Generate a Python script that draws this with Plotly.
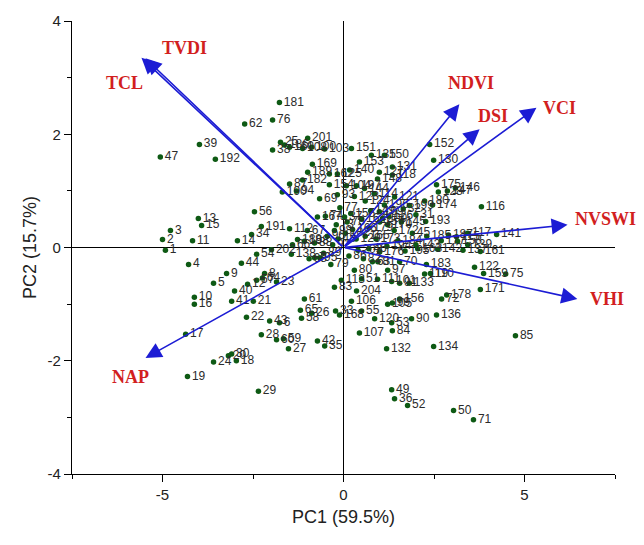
import plotly.graph_objects as go

# ---- sample scores (PC1, PC2) for samples 1..204 ----
sample_ids = [str(i) for i in range(1, 205)]
pc1 = [-4.92, -5.00, -4.78, -4.28, -3.59, -1.77, -0.80, -2.18, -3.23, -4.12,
       -4.17, -2.65, -4.01, -2.93, -3.92, -4.12, -4.36, -2.96, -4.31, -3.18,
       -2.49, -2.68, -1.85, -3.59, -1.74, -0.88, -1.52, -2.27, -2.35, -3.09,
       2.00, 1.65, -0.22, -2.54, -0.52, 1.41, 0.03, -1.96, -3.98, -3.01,
       -3.09, -0.72, -2.04, -2.82, 1.90, 0.70, -5.06, -0.15, 1.33, 3.04,
       0.50, 1.77, 1.33, -2.40, 0.50, -2.46, -2.40, -1.16, -1.66, -1.85,
       -1.08, -2.73, 0.80, -2.24, -1.19, -1.41, -1.00, -0.95, -0.66, 1.55,
       3.59, 2.71, -0.20, -0.50, 4.48, -1.96, -0.10, 0.10, -0.35, 0.30,
       0.95, 0.55, -0.25, 1.35, 4.75, 0.15, -1.49, -0.80, -0.55, 1.88,
       1.55, -0.30, -0.17, -1.30, -0.66, -0.45, 1.22, -0.25, 1.35, -0.88,
       1.33, 0.05, -0.52, 0.08, 1.22, 0.22, 0.44, -1.13, 0.99, 2.40,
       0.94, -1.49, -0.06, 0.85, 3.12, 3.81, 3.43, 1.35, 2.24, 0.86,
       1.41, 3.62, 0.30, 0.60, -0.17, 1.25, 0.99, 2.62, 0.35, 2.49,
       1.35, 1.19, 1.82, 2.49, 0.77, 2.57, 3.30, -1.44, 3.43, 0.17,
       4.23, 2.60, 2.00, 0.58, 1.60, 3.09, 2.87, 0.94, 0.75, 1.13,
       0.22, 2.38, 0.44, -0.39, 0.20, 1.55, 1.00, 3.15, 3.87, -1.49,
       3.78, -0.39, 2.05, 0.50, 0.60, 0.25, -0.72, -0.11, -0.86, 1.22,
       3.78, 1.40, 0.90, 2.46, 2.57, 1.00, 2.70, 2.85, 0.70, 2.24,
       -1.77, -1.13, 2.29, 1.50, 2.30, -1.63, 2.90, -1.27, -0.99, -1.69,
       -2.27, -3.54, 2.27, 1.20, 1.70, 1.13, 0.36, -1.08, 1.82, 1.08,
       -0.99, -1.99, 0.40, 0.36]
pc2 = [-0.05, 0.14, 0.30, -0.30, -0.63, -1.33, -0.18, -0.46, -0.46, -0.88,
       0.12, -0.65, 0.51, 0.12, 0.39, -1.00, -1.53, -2.00, -2.28, -1.91,
       -0.95, -1.23, -0.61, -2.02, 1.86, -1.16, -1.79, -1.54, -2.54, -1.88,
       0.58, 0.68, -1.12, 0.23, -1.74, -2.67, 0.54, 1.72, 1.82, -0.77,
       -0.95, -1.65, -1.30, -0.28, 0.25, -0.02, 1.60, 0.15, -2.51, -2.88,
       -0.55, -2.79, -1.33, -0.12, -1.12, 0.63, -0.58, -1.25, -1.61, -1.63,
       -0.91, 2.18, -0.25, -0.54, -1.11, 0.05, 0.30, -0.20, 0.86, -0.25,
       -3.04, -0.91, 0.40, 0.55, -0.47, 2.25, 0.70, 0.45, -0.30, -0.40,
       -0.25, -0.20, -0.70, -1.47, -1.56, -0.15, 1.12, 0.08, -0.10, -1.26,
       -0.63, 0.05, 0.93, 1.00, -0.18, 0.20, -0.40, 0.30, -0.98, 1.77,
       -0.60, 0.25, 1.74, 1.09, -1.00, -0.95, -1.51, 1.75, 0.63, -0.46,
       -0.56, 0.33, -0.58, 0.95, 0.19, 0.72, 0.25, 1.28, -0.47, -1.26,
       0.89, -0.35, 0.90, 0.82, 1.30, 0.55, 1.33, 0.98, 0.15, 1.54,
       1.42, -1.79, -0.63, -1.75, 1.63, -1.19, -0.05, -0.12, 0.05, 1.37,
       0.23, -0.03, 0.05, 1.04, 0.45, 1.05, 1.00, 1.21, 0.65, 1.63,
       1.75, 1.82, 1.51, 1.11, 0.60, -0.91, 0.45, 0.11, -0.46, 1.77,
       -0.07, 1.30, -0.02, 0.50, 0.20, 0.32, 0.54, -1.19, 1.47, 0.40,
       -0.74, 0.30, 0.15, 0.75, 1.11, -0.08, 0.12, -0.84, 0.35, 0.82,
       2.56, 1.19, -0.30, 0.12, 0.20, 1.81, 0.22, 0.14, 1.33, 0.98,
       0.37, 1.56, 0.46, 0.02, -0.06, 0.75, 1.09, 0.11, 0.74, 0.51,
       1.93, -0.04, -0.05, -0.77]

# ---- variable loadings (arrow tips) ----
var_names = ["TVDI", "TCL", "NDVI", "DSI", "VCI", "NVSWI", "VHI", "NAP"]
var_pc1 = [-5.58, -5.47, 3.20, 3.76, 5.33, 6.19, 6.46, -5.47]
var_pc2 = [3.35, 3.34, 2.53, 2.09, 2.47, 0.40, -0.91, -1.95]

# label placement (layout only)
var_label_pos = [(-4.40, 3.53), (-6.05, 2.91), (3.51, 2.91), (4.12, 2.33),
                 (5.97, 2.47), (7.24, 0.51), (7.27, -0.91), (-5.88, -2.28)]

ARROW = "#1c1cd4"
RED = "#d21f1f"

fig = go.Figure()
fig.add_trace(go.Scatter(
    x=pc1, y=pc2, text=sample_ids, mode="markers+text",
    textposition="middle right",
    marker=dict(color="#0e5a14", size=5.5),
    textfont=dict(family="Liberation Sans, Arial, sans-serif", size=12, color="#2b2b2b"),
    cliponaxis=False, showlegend=False, hoverinfo="skip"))

annotations = []
for name, vx, vy, (lx, ly) in zip(var_names, var_pc1, var_pc2, var_label_pos):
    annotations.append(dict(
        x=vx, y=vy, ax=0, ay=0, xref="x", yref="y", axref="x", ayref="y",
        text="", showarrow=True, arrowhead=2, arrowsize=2.0, arrowwidth=1.6,
        arrowcolor=ARROW, standoff=0, startstandoff=0))
    annotations.append(dict(
        x=lx, y=ly, xref="x", yref="y", text=f"<b>{name}</b>", showarrow=False,
        xanchor="center", yanchor="middle",
        font=dict(family="Liberation Serif, Times New Roman, serif", size=18, color=RED)))

axis_common = dict(
    showgrid=False, showline=True, linecolor="black", linewidth=1.2,
    ticks="outside", ticklen=7, tickwidth=1.2, tickcolor="black",
    zeroline=True, zerolinecolor="black", zerolinewidth=1.2,
    tickfont=dict(family="Liberation Sans, Arial, sans-serif", size=15, color="#222"),
    mirror=False)

fig.update_layout(
    width=644, height=545,
    margin=dict(l=72, r=29, t=18, b=71),
    paper_bgcolor="white", plot_bgcolor="white",
    annotations=annotations,
    xaxis=dict(range=[-7.5, 7.5], tickvals=[-5, 0, 5], ticktext=["-5", "0", "5"],
               minor=dict(tickvals=[-7.5, -2.5, 2.5, 7.5], ticklen=4, ticks="outside",
                          tickcolor="black", tickwidth=1.2),
               title=dict(text="PC1 (59.5%)", standoff=8,
                          font=dict(family="Liberation Sans, Arial, sans-serif", size=18, color="#222")),
               **axis_common),
    yaxis=dict(range=[-4, 4], tickvals=[-4, -2, 0, 2, 4], ticktext=["-4", "-2", "0", "2", "4"],
               minor=dict(tickvals=[-3, -1, 1, 3], ticklen=4, ticks="outside",
                          tickcolor="black", tickwidth=1.2),
               title=dict(text="PC2 (15.7%)", standoff=6,
                          font=dict(family="Liberation Sans, Arial, sans-serif", size=18, color="#222")),
               **axis_common),
)

fig.write_html("out.html")
